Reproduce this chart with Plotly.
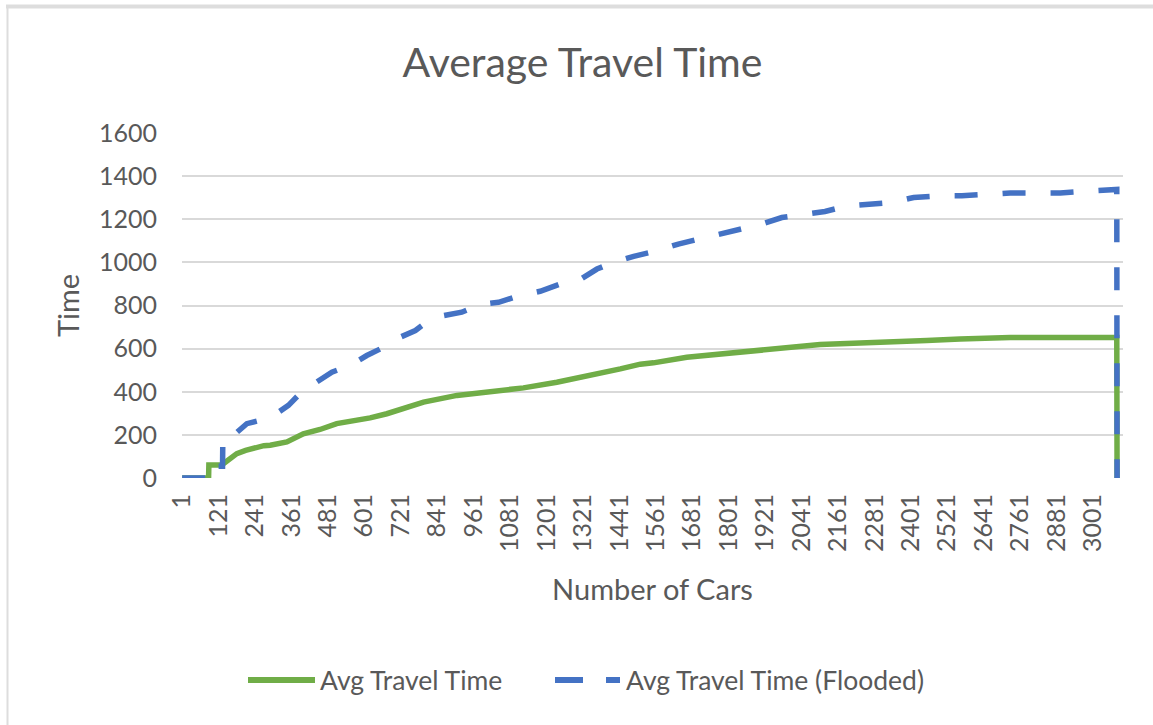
import plotly.graph_objects as go

# Car index at which each reading was taken, and average travel time there
normal_cars = [1, 88, 89, 130, 140, 165, 181, 210, 236, 270, 291, 320, 346, 400, 455,
               510, 565, 620, 675, 719, 796, 906, 1015, 1125, 1235, 1345, 1411, 1444,
               1510, 1553, 1663, 1773, 1883, 1993, 2102, 2212, 2343, 2453, 2563, 2728,
               3079, 3080]
normal_time = [0, 0, 60, 60, 70, 95, 113, 128, 138, 150, 152, 158, 167, 205, 225,
               252, 264, 279, 298, 316, 352, 383, 398, 418, 444, 475, 500, 506,
               528, 534, 560, 576, 588, 606, 619, 625, 630, 638, 645, 652,
               652, 0]

flooded_cars = [1, 88, 89, 134, 135, 170, 214, 240, 264, 313, 351, 395, 445, 494, 554,
                609, 664, 719, 769, 813, 862, 922, 983, 1043, 1114, 1180, 1246, 1306,
                1367, 1421, 1488, 1554, 1635, 1701, 1773, 1838, 1910, 1976, 2047, 2118,
                2190, 2261, 2338, 2410, 2497, 2569, 2651, 2728, 2810, 2893, 2969, 3052,
                3079, 3080]
flooded_time = [0, 0, 55, 55, 185, 198, 252, 262, 270, 300, 337, 400, 444, 491, 522,
                568, 606, 653, 684, 730, 753, 769, 804, 815, 846, 866, 900, 915,
                969, 1000, 1028, 1050, 1085, 1108, 1131, 1155, 1178, 1208, 1224, 1236,
                1262, 1267, 1278, 1301, 1309, 1309, 1319, 1322, 1322, 1322, 1329, 1338,
                1338, 0]

x_ticks = list(range(1, 3002, 120))
y_ticks = list(range(0, 1601, 200))
n_categories = 3099

GREEN = "#70AD47"
BLUE = "#4472C4"
TEXT = "#595959"
GRID = "#D9D9D9"
FONT = "Lato, 'Open Sans', sans-serif"

W, H = 1153, 725
L, R, T, B = 182, 30, 133, 247
PW, PH = W - L - R, H - T - B


def px(x):
    return (x - L) / PW


def py(y):
    return (H - B - y) / PH


fig = go.Figure()
fig.add_trace(go.Scatter(x=normal_cars, y=normal_time, mode="lines",
                         name="Avg Travel Time", showlegend=False,
                         line=dict(color=GREEN, width=5.5)))
fig.add_trace(go.Scatter(x=flooded_cars, y=flooded_time, mode="lines",
                         name="Avg Travel Time (Flooded)", showlegend=False,
                         line=dict(color=BLUE, width=5.5, dash="23px,25px")))

shapes = [
    # outer chart frame (top and left edges)
    dict(type="line", xref="paper", yref="paper", x0=px(6), x1=px(W), y0=py(6.5), y1=py(6.5),
         line=dict(color="#DDDDDD", width=4)),
    dict(type="line", xref="paper", yref="paper", x0=px(7.5), x1=px(7.5), y0=py(5), y1=py(H),
         line=dict(color="#DDDDDD", width=2)),
    # legend samples
    dict(type="line", xref="paper", yref="paper", x0=px(248), x1=px(315), y0=py(680), y1=py(680),
         line=dict(color=GREEN, width=6)),
    dict(type="line", xref="paper", yref="paper", x0=px(555), x1=px(620), y0=py(680), y1=py(680),
         line=dict(color=BLUE, width=6, dash="28px,23px")),
]

annotations = [
    dict(text="Avg Travel Time", x=px(318), y=py(680), xref="paper", yref="paper",
         xanchor="left", yanchor="middle", showarrow=False,
         font=dict(family=FONT, size=26.5, color=TEXT)),
    dict(text="Avg Travel Time (Flooded)", x=px(624), y=py(680), xref="paper", yref="paper",
         xanchor="left", yanchor="middle", showarrow=False,
         font=dict(family=FONT, size=26.5, color=TEXT)),
]

fig.update_layout(
    width=W, height=H,
    margin=dict(l=L, r=R, t=T, b=B),
    paper_bgcolor="white", plot_bgcolor="white",
    title=dict(text="Average Travel Time", x=582.5 / W, xanchor="center",
               y=1 - 63 / H, yanchor="middle",
               font=dict(family=FONT, size=41, color=TEXT)),
    xaxis=dict(range=[0.5, n_categories + 0.5], tickmode="array", tickvals=x_ticks,
               ticktext=[str(v) for v in x_ticks], tickangle=-90,
               showgrid=False, zeroline=False, showline=False, ticks="",
               ticklabelstandoff=10,
               tickfont=dict(family=FONT, size=25, color=TEXT),
               title=dict(text="Number of Cars", standoff=28,
                          font=dict(family=FONT, size=29, color=TEXT))),
    yaxis=dict(range=[0, 1600], tickmode="array", tickvals=y_ticks,
               showgrid=True, gridcolor=GRID, gridwidth=1.5, zeroline=False,
               showline=False, ticks="", ticklabelstandoff=24,
               tickfont=dict(family=FONT, size=25, color=TEXT),
               title=dict(text="Time", standoff=10,
                          font=dict(family=FONT, size=29, color=TEXT))),
    shapes=shapes,
    annotations=annotations,
)

fig.write_html("out.html")
